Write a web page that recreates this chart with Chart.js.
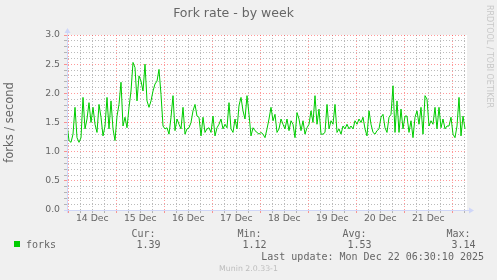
<!DOCTYPE html>
<html>
<head>
<meta charset="utf-8">
<script src="https://cdn.jsdelivr.net/npm/chart.js@4.4.1/dist/chart.umd.min.js"></script>
<style>
html,body{margin:0;padding:0;background:#F0F0F0;}
#wrap{width:497px;height:280px;position:relative;}
canvas{display:block;}
</style>
</head>
<body>
<div id="wrap"><canvas id="c" width="497" height="280"></canvas></div>
<script>
// ---------- data ----------
const chartTitle = 'Fork rate - by week';
const yAxisLabel = 'forks / second';
const dayLabels = ['14 Dec','15 Dec','16 Dec','17 Dec','18 Dec','19 Dec','20 Dec','21 Dec'];
const yTickLabels = ['0.0','0.5','1.0','1.5','2.0','2.5','3.0'];
const seriesName = 'forks';
const statHeaders = ['Cur:','Min:','Avg:','Max:'];
const statValues = ['1.39','1.12','1.53','3.14'];
const lastUpdate = 'Last update: Mon Dec 22 06:30:10 2025';
const footerText = 'Munin 2.0.33-1';
const watermark = 'RRDTOOL / TOBI OETIKER';
// time of first sample, hours relative to 14 Dec 00:00; one sample per hour
const firstSampleHour = -0.65;
const sampleStepHours = 1;
const windowHours = 200;
const forks = [
 1.47,1.19,1.16,1.30,1.76,1.24,1.16,1.24,1.93,1.39,1.56,1.84,1.50,1.76,1.47,1.33,1.81,1.59,1.27,1.44,1.93,1.39,1.87,1.39,1.19,1.61,1.81,2.19,1.44,1.59,1.41,1.76,2.04,2.53,
 2.44,1.87,2.30,2.21,2.04,2.50,1.87,1.76,1.87,2.04,2.16,2.21,2.41,1.98,1.44,1.39,1.41,1.30,1.59,1.96,1.36,1.56,1.47,1.39,1.76,1.30,1.39,1.41,1.50,1.70,1.81,1.61,1.59,1.27,
 1.59,1.33,1.39,1.41,1.33,1.61,1.27,1.41,1.47,1.56,1.39,1.47,1.41,1.84,1.39,1.33,1.56,1.39,1.79,1.93,1.70,1.56,1.96,1.64,1.27,1.41,1.36,1.33,1.30,1.33,1.30,1.24,1.39,1.56,
 1.76,1.53,1.64,1.33,1.39,1.56,1.47,1.39,1.56,1.36,1.53,1.47,1.24,1.67,1.56,1.36,1.53,1.30,1.41,1.47,1.70,1.50,1.96,1.47,1.73,1.30,1.30,1.33,1.81,1.39,1.53,1.47,1.81,1.33,
 1.39,1.30,1.44,1.39,1.47,1.39,1.44,1.39,1.53,1.47,1.56,1.50,1.59,1.39,1.27,1.70,1.47,1.33,1.30,1.36,1.39,1.59,1.64,1.41,1.33,1.59,1.64,2.13,1.33,1.87,1.33,1.73,1.39,1.61,
 1.61,1.33,1.53,1.24,1.59,1.70,1.47,1.76,1.30,1.96,1.90,1.44,1.53,1.47,1.76,1.39,1.76,1.41,1.56,1.39,1.44,1.44,1.59,1.30,1.24,1.44,1.93,1.27,1.61,1.39
];

// ---------- styling ----------
const FONT = 'DejaVu Sans';
const MONO = 'DejaVu Sans Mono';
const TEXT = '#666666';
const AXIS = '#CFD6F8';
const MAJOR = 'rgba(255,70,70,0.55)';
const MINOR = 'rgba(120,120,120,0.5)';
const LINE = '#00CC00';

const points = forks.map((v, i) => ({ x: firstSampleHour + i * sampleStepHours, y: v }));

const isMajorX = (c) => c.tick && c.tick.value % 24 === 0;
const isMajorY = (c) => c.tick && Math.round(c.tick.value * 10) % 5 === 0;

const muninPlugin = {
  id: 'munin',
  beforeDraw(chart) {
    const { ctx, chartArea: a } = chart;
    ctx.save();
    ctx.fillStyle = '#F0F0F0';
    ctx.fillRect(0, 0, chart.width, chart.height);
    ctx.fillStyle = '#FFFFFF';
    ctx.fillRect(a.left, a.top, a.right - a.left, a.bottom - a.top);
    ctx.restore();
  },
  afterDraw(chart) {
    const { ctx, chartArea: a } = chart;
    ctx.save();
    // axis extensions and arrows
    ctx.strokeStyle = AXIS;
    ctx.fillStyle = AXIS;
    ctx.lineWidth = 1;
    ctx.beginPath();
    ctx.moveTo(a.left - 3, a.bottom + 0.5);
    ctx.lineTo(a.right + 3, a.bottom + 0.5);
    ctx.moveTo(a.left + 0.5, a.bottom + 3);
    ctx.lineTo(a.left + 0.5, a.top - 3);
    ctx.stroke();
    ctx.beginPath();
    ctx.moveTo(a.right + 2, a.bottom - 2.5);
    ctx.lineTo(a.right + 7, a.bottom + 0.5);
    ctx.lineTo(a.right + 2, a.bottom + 3.5);
    ctx.closePath();
    ctx.fill();
    ctx.beginPath();
    ctx.moveTo(a.left - 2.5, a.top - 2);
    ctx.lineTo(a.left + 0.5, a.top - 7);
    ctx.lineTo(a.left + 3.5, a.top - 2);
    ctx.closePath();
    ctx.fill();

    // legend
    ctx.fillStyle = LINE;
    ctx.fillRect(14, 241, 6, 6);
    ctx.font = '10px "' + MONO + '"';
    ctx.fillStyle = TEXT;
    ctx.textBaseline = 'middle';
    ctx.textAlign = 'left';
    ctx.fillText(seriesName, 26, 245.5);
    const colX = [131.5, 237.5, 342.5, 446.5];
    statHeaders.forEach((h, i) => ctx.fillText(h, colX[i], 234));
    statValues.forEach((v, i) => ctx.fillText(v, colX[i] + 5, 245.5));
    ctx.textAlign = 'right';
    ctx.fillText(lastUpdate, 484, 257.5);

    // footer
    ctx.font = '7.8px "' + FONT + '"';
    ctx.fillStyle = '#BDBDBD';
    ctx.textAlign = 'center';
    ctx.fillText(footerText, 248.5, 269);

    // watermark
    ctx.translate(489.5, 56.5);
    ctx.rotate(Math.PI / 2);
    ctx.font = '8px "' + FONT + '"';
    ctx.fillStyle = '#C8C8C8';
    ctx.textAlign = 'center';
    ctx.textBaseline = 'middle';
    ctx.fillText(watermark, 0, 0);
    ctx.restore();
  }
};

new Chart(document.getElementById('c'), {
  type: 'line',
  data: {
    datasets: [{
      label: seriesName,
      data: points,
      borderColor: LINE,
      backgroundColor: LINE,
      borderWidth: 1,
      pointRadius: 0,
      tension: 0,
      fill: false
    }]
  },
  options: {
    responsive: false,
    animation: false,
    devicePixelRatio: 1,
    layout: { padding: { left: 0, right: 30, top: 0, bottom: 0 } },
    plugins: {
      legend: { display: false },
      tooltip: { enabled: false },
      title: {
        display: true,
        text: chartTitle,
        color: TEXT,
        font: { family: FONT, size: 12.5, weight: 'normal' },
        padding: { top: 6, bottom: 14 }
      }
    },
    scales: {
      x: {
        type: 'linear',
        min: firstSampleHour,
        max: firstSampleHour + windowHours,
        afterBuildTicks(s) {
          const t = [];
          for (let h = 0; h <= s.max; h += 6) t.push({ value: h });
          s.ticks = t;
        },
        afterFit(s) { s.height = 70; },
        ticks: {
          autoSkip: false,
          maxRotation: 0,
          minRotation: 0,
          padding: 0,
          color: TEXT,
          font: { family: FONT, size: 9.3 },
          callback(v) { return (v % 24 === 12) ? dayLabels[(v - 12) / 24] : ''; }
        },
        grid: {
          color: (c) => isMajorX(c) ? MAJOR : MINOR,
          tickColor: (c) => isMajorX(c) ? MAJOR : MINOR,
          lineWidth: 1,
          tickLength: 3,
          drawTicks: true
        },
        border: { display: true, color: AXIS, width: 1, dash: [1, 2] }
      },
      y: {
        type: 'linear',
        min: 0,
        max: 3,
        afterBuildTicks(s) {
          const t = [];
          for (let k = 0; k <= 30; k++) t.push({ value: k / 10 });
          s.ticks = t;
        },
        afterFit(s) { s.width = 67; },
        ticks: {
          autoSkip: false,
          padding: 4,
          color: TEXT,
          font: { family: FONT, size: 9.3 },
          callback(v) {
            const k = Math.round(v * 10);
            return (k % 5 === 0) ? yTickLabels[k / 5] : '';
          }
        },
        grid: {
          color: (c) => isMajorY(c) ? MAJOR : MINOR,
          tickColor: (c) => isMajorY(c) ? MAJOR : MINOR,
          lineWidth: 1,
          tickLength: 3,
          drawTicks: true
        },
        border: { display: true, color: AXIS, width: 1, dash: [1, 2] },
        title: {
          display: true,
          text: yAxisLabel,
          color: TEXT,
          font: { family: FONT, size: 11.5 },
          padding: { top: 3, bottom: 0 }
        }
      }
    }
  },
  plugins: [muninPlugin]
});
</script>
</body>
</html>
